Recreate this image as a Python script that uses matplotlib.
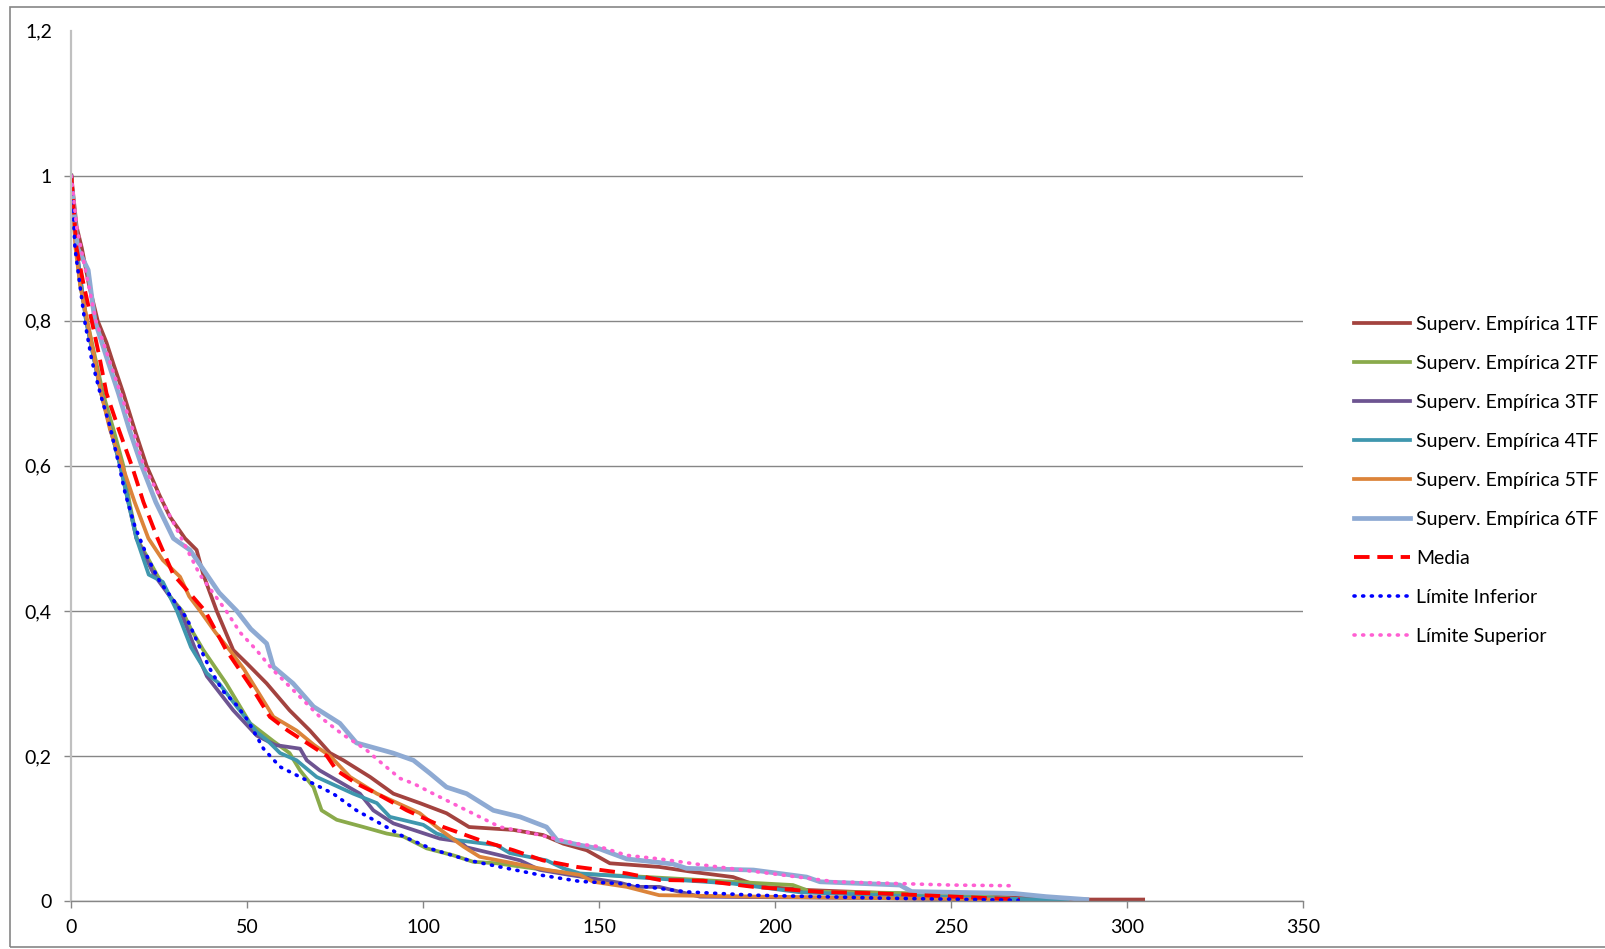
import matplotlib.pyplot as plt
from matplotlib.ticker import FuncFormatter
from matplotlib.patches import Rectangle

plt.rcParams['font.family'] = ['Lato', 'DejaVu Sans']

# curvas de supervivencia (x = tiempo, y = proporcion)
x_1tf = [0, 1.5, 3, 5, 7.5, 10, 12, 14.8, 18, 21.4, 25, 28, 32.3, 35.6, 37.5, 41.3, 46, 50, 55.5, 62,
         67.8, 73.5, 77.3, 84.9, 91.5, 99, 106.6, 113, 125.6, 134, 139.8, 146.4, 153, 167, 176.7, 188,
         195.6, 209.9, 233.5, 260, 288.5, 304.5]
y_1tf = [1.0, 0.93, 0.9, 0.85, 0.8, 0.77, 0.74, 0.7, 0.65, 0.6, 0.56, 0.53, 0.5, 0.484, 0.45, 0.4, 0.346,
         0.327, 0.30, 0.263, 0.235, 0.204, 0.194, 0.171, 0.148, 0.135, 0.121, 0.102, 0.098, 0.091, 0.079,
         0.07, 0.052, 0.047, 0.04, 0.033, 0.02, 0.015, 0.0105, 0.006, 0.002, 0.002]

x_2tf = [0, 1, 2.5, 4.5, 9, 12, 14.8, 16.5, 18.6, 21.5, 24.3, 28, 31.5, 34, 37.5, 44, 50.8, 57.5, 62, 65,
         68.8, 71.1, 75.4, 83, 89.6, 94.3, 101, 108.5, 114.2, 120.8, 131.3, 141.7, 160, 186, 205, 210,
         235, 253, 272]
y_2tf = [1.0, 0.92, 0.85, 0.8, 0.7, 0.65, 0.6, 0.55, 0.5, 0.475, 0.45, 0.42, 0.4, 0.375, 0.346, 0.30,
         0.245, 0.22, 0.204, 0.18, 0.157, 0.125, 0.112, 0.102, 0.093, 0.089, 0.0725, 0.063, 0.054, 0.052,
         0.045, 0.038, 0.034, 0.027, 0.022, 0.013, 0.011, 0.009, 0.001]

x_3tf = [0, 1, 2, 4.2, 8.5, 13.9, 18.5, 23.5, 28, 31, 35, 38.5, 46, 52.7, 58, 65, 66.9, 70.6, 82, 85.8,
         91.5, 97.2, 104.7, 110.4, 112.3, 121.8, 127.5, 133, 141.5, 156, 160, 167, 178.6, 230, 272]
y_3tf = [1.0, 0.93, 0.88, 0.8, 0.7, 0.6, 0.5, 0.45, 0.42, 0.4, 0.35, 0.31, 0.263, 0.228, 0.215, 0.21,
         0.194, 0.18, 0.148, 0.125, 0.107, 0.098, 0.086, 0.082, 0.074, 0.063, 0.056, 0.043, 0.036, 0.025,
         0.0195, 0.0195, 0.006, 0.004, 0.001]

x_4tf = [0, 1, 2, 4.2, 8.5, 13.9, 18.5, 22, 26, 30, 34, 38.5, 42, 47, 52.7, 56, 59.3, 64, 69.7, 80.1,
         86.8, 90.5, 100, 103.8, 109.5, 120.8, 124.6, 135, 139.8, 144.5, 159.7, 188, 207, 229.7, 260, 283]
y_4tf = [1.0, 0.93, 0.88, 0.8, 0.7, 0.6, 0.5, 0.45, 0.44, 0.4, 0.35, 0.314, 0.3, 0.268, 0.233, 0.22,
         0.204, 0.194, 0.171, 0.148, 0.135, 0.116, 0.105, 0.093, 0.084, 0.077, 0.066, 0.056, 0.045, 0.038,
         0.033, 0.024, 0.012, 0.008, 0.004, 0.001]

x_5tf = [0, 1.2, 2.5, 4.5, 8.5, 11, 14.5, 18, 21.9, 26, 30.9, 33.5, 36.6, 41, 45, 49, 52.7, 57.4, 64, 69,
         73.5, 79.2, 86.8, 99, 103.8, 107.6, 111.4, 116, 125.6, 135, 144.5, 148.3, 157.8, 167, 195.6, 230, 265]
y_5tf = [1.0, 0.9, 0.85, 0.8, 0.7, 0.65, 0.6, 0.55, 0.5, 0.47, 0.447, 0.42, 0.4, 0.37, 0.346, 0.32, 0.291,
         0.254, 0.235, 0.215, 0.2, 0.171, 0.148, 0.121, 0.102, 0.0885, 0.075, 0.061, 0.052, 0.043, 0.036,
         0.0265, 0.0195, 0.008, 0.006, 0.004, 0.002]

x_6tf = [0, 1.8, 4.8, 6.7, 10, 13.4, 16.5, 20, 24, 29, 33.7, 38.5, 42, 47, 51, 55.5, 57.4, 63, 68.8, 76.3,
         81, 91.4, 97.2, 101.9, 106.6, 112.3, 119.9, 127.5, 135, 138, 144.5, 150, 157.8, 171, 174.8,
         193.8, 208.9, 212.7, 235.4, 238.7, 267.6, 277, 288.5]
y_6tf = [0.99, 0.9, 0.87, 0.8, 0.75, 0.7, 0.65, 0.6, 0.55, 0.5, 0.484, 0.45, 0.425, 0.4, 0.375, 0.355,
         0.323, 0.30, 0.268, 0.245, 0.218, 0.204, 0.194, 0.176, 0.157, 0.148, 0.125, 0.116, 0.102, 0.084,
         0.077, 0.072, 0.058, 0.051, 0.045, 0.0427, 0.033, 0.0265, 0.022, 0.013, 0.0105, 0.006, 0.002]

x_media = [0, 1.5, 3.5, 5.8, 8, 10, 13.5, 17.2, 20.5, 24.5, 29, 33.7, 38, 44, 51.7, 56.4, 61.5, 66.9,
           72.6, 75.4, 81, 86.8, 95.3, 105.7, 116, 125.6, 134, 143.6, 157.8, 167.2, 179.5, 193.8, 212.7,
           229.7, 269.5]
y_media = [1.0, 0.9, 0.85, 0.8, 0.75, 0.7, 0.65, 0.6, 0.55, 0.5, 0.45, 0.424, 0.4, 0.346, 0.291, 0.254,
           0.235, 0.218, 0.2, 0.18, 0.162, 0.148, 0.125, 0.102, 0.084, 0.07, 0.056, 0.047, 0.038, 0.029,
           0.028, 0.0195, 0.0125, 0.0105, 0.002]

x_inf = [0, 1.05, 3.8, 5.8, 8.2, 11, 13.6, 15.3, 18.1, 22, 25.2, 29, 32.8, 36, 39.4, 43, 47, 50, 54.6,
         59.3, 65, 74.4, 81, 87.7, 94.3, 102.8, 113, 121.8, 133, 144.5, 156, 175, 194, 230, 269]
y_inf = [1.0, 0.9, 0.8, 0.746, 0.70, 0.654, 0.6, 0.562, 0.516, 0.47, 0.44, 0.415, 0.39, 0.355, 0.32, 0.29,
         0.27, 0.25, 0.21, 0.185, 0.171, 0.148, 0.125, 0.107, 0.089, 0.071, 0.056, 0.047, 0.036, 0.027,
         0.024, 0.0125, 0.008, 0.004, 0.001]

x_sup = [0, 1.5, 4, 7, 10.5, 14, 17.5, 20.6, 26, 31.3, 36.5, 44, 48, 52.6, 57, 63, 70.6, 77, 83.9, 87.2,
         93.4, 97.2, 102.8, 112.3, 121.8, 131.3, 143.6, 150, 157.8, 167.2, 179.5, 198.5, 217, 235.4, 250, 268]
y_sup = [1.0, 0.93, 0.87, 0.8, 0.75, 0.7, 0.65, 0.6, 0.55, 0.5, 0.45, 0.4, 0.37, 0.346, 0.32, 0.291, 0.254,
         0.23, 0.208, 0.194, 0.169, 0.162, 0.148, 0.125, 0.102, 0.093, 0.079, 0.075, 0.063, 0.058, 0.0496,
         0.038, 0.0265, 0.024, 0.022, 0.021]

etiquetas = ['Superv. Empírica 1TF', 'Superv. Empírica 2TF', 'Superv. Empírica 3TF',
             'Superv. Empírica 4TF', 'Superv. Empírica 5TF', 'Superv. Empírica 6TF',
             'Media', 'Límite Inferior', 'Límite Superior']

W, H = 1605, 949
fig = plt.figure(figsize=(W / 100, H / 100), dpi=100)
ax = fig.add_axes([71.3 / W, (H - 901) / H, (1303.3 - 71.3) / W, (901 - 30.7) / H])

# borde del grafico (estilo Excel)
fig.patches.append(Rectangle((10 / W, 2 / H), 1.2, (H - 9) / H, transform=fig.transFigure,
                             fill=False, edgecolor='#868686', lw=1.2))

lw = 2.7
ax.plot(x_1tf, y_1tf, color='#A3433F', lw=lw, label=etiquetas[0])
ax.plot(x_2tf, y_2tf, color='#8AAA4B', lw=lw, label=etiquetas[1])
ax.plot(x_3tf, y_3tf, color='#6D5491', lw=lw, label=etiquetas[2])
ax.plot(x_4tf, y_4tf, color='#3F97AE', lw=lw, label=etiquetas[3])
ax.plot(x_5tf, y_5tf, color='#DC843A', lw=lw, label=etiquetas[4])
ax.plot(x_6tf, y_6tf, color='#8EAAD3', lw=3.4, label=etiquetas[5])
ax.plot(x_media, y_media, color='#FF0000', lw=2.8, dashes=(4, 2), label=etiquetas[6])
ax.plot(x_inf, y_inf, color='#0000FF', lw=2.6, dashes=(0.3, 2.1), dash_capstyle='round', label=etiquetas[7])
ax.plot(x_sup, y_sup, color='#FF5FD2', lw=2.6, dashes=(0.3, 2.1), dash_capstyle='round', label=etiquetas[8])

ax.set_xlim(0, 350)
ax.set_ylim(0, 1.2)
ax.set_xticks(range(0, 351, 50))
ax.set_yticks([0, 0.2, 0.4, 0.6, 0.8, 1.0, 1.2])
ax.yaxis.set_major_formatter(FuncFormatter(lambda v, p: ('%g' % round(v, 1)).replace('.', ',')))

ax.grid(axis='y', color='#868686', lw=1)
ax.get_ygridlines()[-1].set_visible(False)
ax.yaxis.get_major_ticks()[-1].tick1line.set_visible(False)

for s in ['top', 'right']:
    ax.spines[s].set_visible(False)
ax.spines['left'].set_color('#C0C0C0')
ax.spines['left'].set_linewidth(1.6)
ax.spines['bottom'].set_color('#868686')
ax.spines['bottom'].set_linewidth(1)
ax.tick_params(axis='both', colors='#868686', length=5, width=1, labelsize=14, labelcolor='black')
ax.tick_params(axis='y', pad=9)
ax.tick_params(axis='x', pad=8)
ax.set_axisbelow(True)

fig.legend(loc='center left', bbox_to_anchor=(1354 / W, 1 - 480.5 / H), frameon=False, fontsize=14,
           borderpad=0, borderaxespad=0, handlelength=2.9, handletextpad=0.3, labelspacing=1.13)

fig.savefig('out.png', dpi=100)
